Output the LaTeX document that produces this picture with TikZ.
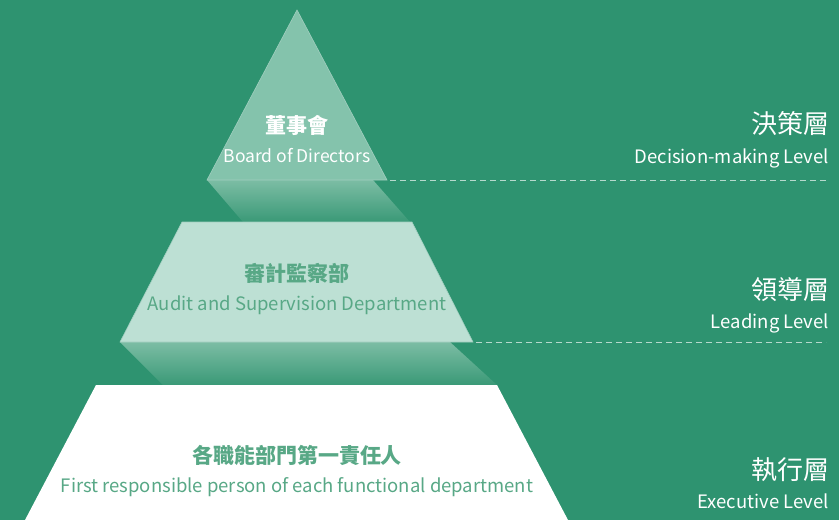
\documentclass[tikz,border=0pt]{standalone}
\usepackage{fontspec}
\setmainfont{Noto Sans CJK TC}
\usetikzlibrary{positioning}
\definecolor{bggreen}{HTML}{2E9370}
\definecolor{tiertop}{HTML}{84C3AC}
\definecolor{tiermid}{HTML}{BDE0D4}
\definecolor{tiertext}{HTML}{58A886}
\definecolor{foldtop}{HTML}{7CBDA4}
\definecolor{foldbot}{HTML}{3A9977}
\tikzset{
    tier/.style={draw=white!55!bggreen, line width=0.6pt},
    fold/.style={top color=foldtop, bottom color=foldbot, draw=none},
    levelline/.style={dashed, dash pattern=on 6pt off 4pt, white!65!bggreen, line width=0.9pt},
    cntitle/.style={font=\bfseries\fontsize{21}{21}\selectfont, anchor=base, inner sep=0pt},
    entitle/.style={font=\fontsize{18.5}{18.5}\selectfont, anchor=base, inner sep=0pt},
    lvlcn/.style={font=\fontsize{26}{26}\selectfont, white, anchor=base east, inner sep=0pt},
    lvlen/.style={font=\fontsize{18.5}{18.5}\selectfont, white, anchor=base east, inner sep=0pt}
}

\begin{document}
\begin{tikzpicture}[x=1pt, y=-1pt]
    \fill[bggreen] (0,0) rectangle (839,520);
    \useasboundingbox (0,0) rectangle (839,520);

    % corners of the three tiers
    \coordinate (apex) at (297,10);
    \coordinate (t1l) at (207,180);
    \coordinate (t1r) at (387,180);
    \coordinate (t2tl) at (182,222);
    \coordinate (t2tr) at (412,222);
    \coordinate (t2bl) at (120,342);
    \coordinate (t2br) at (473,342);
    \coordinate (t3tl) at (96,385);
    \coordinate (t3tr) at (497,385);
    \coordinate (t3bl) at (25,520);
    \coordinate (t3br) at (568,520);

    % shaded undersides
    \shade[fold] (t1l) -- (373,180) -- (410,222) -- (243,222) -- cycle;
    \shade[fold] (t2bl) -- (450,342) -- (t3tr) -- (163,385) -- cycle;

    % tiers
    \fill[tiertop, tier] (apex) -- (t1r) -- (t1l) -- cycle;
    \fill[tiermid, tier] (t2tl) -- (t2tr) -- (t2br) -- (t2bl) -- cycle;
    \fill[white] (t3tl) -- (t3tr) -- (t3br) -- (t3bl) -- cycle;

    % level separators
    \coordinate (sep1) at (826,180);
    \coordinate (sep2) at (826,342);
    \draw[levelline] ([xshift=3pt]t1r) -- (sep1);
    \draw[levelline] ([xshift=3pt]t2br) -- (sep2);

    % tier labels
    \node[cntitle, white] (board) at (297,133) {董事會};
    \node[entitle, white, font=\fontsize{17.5}{17.5}\selectfont] (boarden) at (297,162) {Board of Directors};
    \node[cntitle, tiertext] (audit) at (297,281) {審計監察部};
    \node[entitle, tiertext] (auditen) at (297,310) {Audit and Supervision Department};
    \node[cntitle, tiertext] (dept) at (297,463) {各職能部門第一責任人};
    \node[entitle, tiertext] (depten) at (297,492) {First responsible person of each functional department};

    % level names on the right
    \node[lvlcn] (decision) at (830,133) {決策層};
    \node[lvlen] (decisionen) at (829,163) {Decision-making Level};
    \node[lvlcn] (leading) at (830,299) {領導層};
    \node[lvlen] (leadingen) at (829,328) {Leading Level};
    \node[lvlcn] (exec) at (830,479) {執行層};
    \node[lvlen] (execen) at (829,508) {Executive Level};
\end{tikzpicture}
\end{document}
